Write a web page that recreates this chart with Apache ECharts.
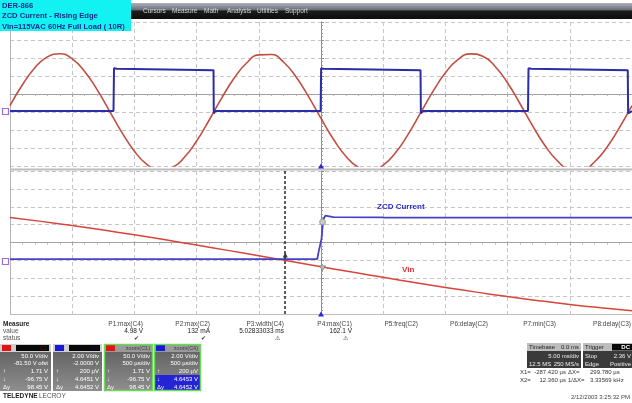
<!DOCTYPE html>
<html>
<head>
<meta charset="utf-8">
<script src="https://cdn.jsdelivr.net/npm/echarts@6/dist/echarts.min.js"></script>
<style>
html,body{margin:0;padding:0;background:#ffffff;}
#chart{width:632px;height:403px;}
</style>
</head>
<body>
<div id="chart"></div>
<script>
// ================= DATA =================
const titleLines = ['DER-866', 'ZCD Current - Rising Edge', 'Vin=115VAC 60Hz Full Load ( 10R)'];
const menuItems = ['Cursors', 'Measure', 'Math', 'Analysis', 'Utilities', 'Support'];

// upper trace window: 5 ms/div, Vin (C1) in volts, ZCD (C4) in volts
const topTimeMs = [-25,-24,-23,-22,-21,-20,-19,-18,-17,-16,-15,-14,-13,-12,-11,-10,-9,-8,-7,-6,-5,-4,-3,-2,-1,0,1,2,3,4,5,6,7,8,9,10,11,12,13,14,15,16,17,18,19,20,21,22,23,24,25];
const topVin = [17.7,75.7,123.1,153.2,161.8,147.7,112.8,62.1,2.7,-57.2,-108.9,-145.4,-161.5,-154.9,-126.5,-80.4,-22.9,37.7,93.1,135.4,158.6,159.6,138.2,97.3,42.9,-17.7,-75.7,-123.1,-153.2,-161.8,-147.7,-112.8,-62.1,-2.7,57.2,108.9,145.4,161.5,154.9,126.5,80.4,22.9,-37.7,-93.1,-135.4,-158.6,-159.6,-138.2,-97.3,-42.9,17.7];
const topZcdTimeMs = [-25,-16.68,-16.64,-16.4,-8.64,-8.62,-8.5,-0.03,0.01,0.2,8.0,8.03,8.2,16.64,16.68,16.9,24.66,24.69,25];
const topZcd = [0.1,0.1,4.85,4.8,4.65,-0.15,0.1,0.1,4.85,4.8,4.65,-0.15,0.1,0.1,4.85,4.8,4.65,-0.15,0.1];

// lower zoom window: 500 us/div
const zoomTimeMs = [-2.5,-2.25,-2.0,-1.75,-1.5,-1.25,-1.0,-0.75,-0.5,-0.25,0,0.25,0.5,0.75,1.0,1.25,1.5,1.75,2.0,2.25,2.5];
const zoomVin = [119.9,109.1,97.3,84.7,71.4,57.4,42.9,28.0,12.8,-2.4,-17.7,-32.8,-47.5,-61.9,-75.7,-88.8,-101.2,-112.7,-123.2,-132.5,-140.7];
const zoomZcdTimeMs = [-2.5,-0.03,-0.02,-0.004,0.004,0.018,0.035,0.1,0.5,2.5];
const zoomZcd = [0.15,0.15,0.9,1.1,2.4,4.6,5.0,4.85,4.8,4.78];
const cursorX1Ms = -0.28742;
const cursorX2Ms = 0.01236;

const traceLabels = ['ZCD Current', 'Vin'];
const measureNames = ['P1:max(C4)', 'P2:max(C2)', 'P3:width(C4)', 'P4:max(C1)', 'P5:freq(C2)', 'P6:delay(C2)', 'P7:min(C3)', 'P8:delay(C3)'];
const measureValues = ['4.98 V', '132 mA', '5.02833033 ms', '162.1 V', '', '', '', ''];
const measureStatus = ['\u2714', '\u2714', '\u26A0', '\u26A0', '', '', '', ''];
const measureRowNames = ['Measure', 'value', 'status'];
const channelHeads = ['C1', 'C4', 'zoom(C1)', 'zoom(C4)'];
const channelRowTags = ['', '', '\u2191', '\u2193', '\u0394y'];
const channelRows = [
  ['50.0 V/div', '-81.50 V ofst', '1.71 V', '-96.75 V', '98.45 V'],
  ['2.00 V/div', '-2.0000 V', '200 \u00B5V', '4.6451 V', '4.6452 V'],
  ['50.0 V/div', '500 \u00B5s/div', '1.71 V', '-96.75 V', '98.45 V'],
  ['2.00 V/div', '500 \u00B5s/div', '200 \u00B5V', '4.6453 V', '4.6452 V']
];
const timebaseRows = [['Timebase', '0.0 ms'], ['', '5.00 ms/div'], ['12.5 MS', '250 MS/s']];
const triggerRows = [['Trigger', 'DC'], ['Stop', '2.36 V'], ['Edge', 'Positive']];
const cursorRows = [['X1=', '-287.420 \u00B5s', '\u0394X=', '299.780 \u00B5s'], ['X2=', '12.360 \u00B5s', '1/\u0394X=', '3.33569 kHz']];
const dateText = '2/12/2003 3:25:32 PM';
const brandText = ['TELEDYNE', 'LECROY'];

// ================= BUILD =================
const F = '"Liberation Sans", Arial, sans-serif';
function zip(a, b) { return a.map((v, i) => [v, b[i]]); }
function txt(x, y, s, size, fill, align, weight) {
  return { type: 'text', x: x, y: y, silent: true, z: 120,
    style: { text: s, fill: fill, font: (weight || 'normal') + ' ' + size + 'px ' + F,
      align: align || 'left', verticalAlign: 'middle' } };
}
function rect(x, y, w, h, fill, stroke, lw, z) {
  return { type: 'rect', silent: true, z: z || 110, shape: { x: x, y: y, width: w, height: h },
    style: { fill: fill || 'none', stroke: stroke || null, lineWidth: lw || 0 } };
}
function hline(x1, y1, x2, y2, color, w, z) {
  return { type: 'line', silent: true, z: z || 105, shape: { x1: x1, y1: y1, x2: x2, y2: y2 }, style: { stroke: color, lineWidth: w } };
}

const G = [];
// frame lines of the two panels
G.push(hline(10.5, 22, 10.5, 315, '#b4b4b4', 1, 1));
G.push(hline(10, 169.5, 632, 169.5, '#bcbcbc', 2, 1));
G.push(hline(10, 314.5, 632, 314.5, '#bcbcbc', 1.2, 1));

// menu bar + title box
G.push(rect(130, 3, 502, 16, new echarts.graphic.LinearGradient(0, 0, 0, 1, [
  { offset: 0, color: '#aeb2bd' }, { offset: 0.42, color: '#6a6f7c' }, { offset: 0.5, color: '#1c1c1e' }, { offset: 1, color: '#0c0c0c' }])));
const menuX = [143, 172, 204, 227, 257, 285];
menuItems.forEach((m, i) => G.push(txt(menuX[i], 11, m, 6.5, '#d6d6d6')));
G.push(rect(0, 0, 131, 31, '#12f2f2'));
titleLines.forEach((t, i) => G.push(txt(2, 5.5 + i * 10.5, t, 7.6, '#1b2c88', 'left', 'bold')));

// channel ground markers at left
G.push(rect(2.5, 108.5, 6, 6, 'none', '#9a70d8', 1.2));
G.push(rect(2.5, 258.5, 6, 6, 'none', '#9a70d8', 1.2));

// trace labels
G.push(txt(377, 207, traceLabels[0], 8, '#2a2ad2', 'left', 'bold'));
G.push(txt(402, 270, traceLabels[1], 8, '#e02828', 'left', 'bold'));

// measure table
G.push(txt(3, 324, measureRowNames[0], 6.5, '#222', 'left', 'bold'));
G.push(txt(3, 331, measureRowNames[1], 6.5, '#555'));
G.push(txt(3, 338, measureRowNames[2], 6.5, '#555'));
const colR = [143, 210, 284, 352, 418, 488, 556, 631];
measureNames.forEach((m, i) => {
  G.push(txt(colR[i], 324, m, 6.5, '#444', 'right'));
  if (measureValues[i]) G.push(txt(colR[i], 331, measureValues[i], 6.5, '#222', 'right'));
  if (measureStatus[i]) G.push(txt(colR[i] - 4, 338.5, measureStatus[i], 6, '#333', 'right'));
});

// channel boxes
const boxX = [0, 53, 104, 154], boxW = [51, 49, 49, 47];
const headCol = ['#e01414', '#1818d8', '#e01414', '#1818d8'];
channelRows.forEach((rows, b) => {
  const x = boxX[b], w = boxW[b];
  G.push(rect(x, 344, w, 47, new echarts.graphic.LinearGradient(0, 0, 0, 1, [
    { offset: 0, color: '#5c5c5c' }, { offset: 1, color: '#8e8e8e' }])));
  G.push(rect(x, 344, w, 8, b < 2 ? '#cfcfcf' : '#9a9a9a'));
  G.push(rect(x + 2, 345, 9, 6, headCol[b]));
  if (b < 2) {
    G.push(rect(x + 16, 345, w - 18, 6, '#080808'));
    G.push(txt(x + w - 4, 348.2, channelHeads[b], 5.5, b === 0 ? '#6a1010' : '#101070', 'right'));
  } else {
    G.push(txt(x + w - 3, 348.2, channelHeads[b], 5.5, '#3c3c3c', 'right'));
  }
  if (b === 3) G.push(rect(x + 1, 375, w - 2, 16, '#2424d4'));
  rows.forEach((r, k) => {
    G.push(txt(x + w - 3, 356 + k * 7.8, r, 6, '#ffffff', 'right'));
    if (channelRowTags[k]) G.push(txt(x + 3, 356 + k * 7.8, channelRowTags[k], 6, '#ffffff'));
  });
  if (b >= 2) G.push(rect(x + 0.5, 344.5, w - 1, 46, 'none', '#6bdc5a', 1.5));
});
G.push(txt(3, 396.5, brandText[0], 6.5, '#222', 'left', 'bold'));
G.push(txt(39, 396.5, brandText[1], 6.5, '#555'));

// timebase / trigger boxes
G.push(rect(527, 343, 54, 25, '#3a3a3a'));
G.push(rect(527, 343, 54, 8, '#bdbdbd'));
G.push(txt(529, 347, timebaseRows[0][0], 6, '#222'));
G.push(txt(579, 347, timebaseRows[0][1], 6, '#222', 'right'));
G.push(txt(579, 356, timebaseRows[1][1], 6, '#eeeeee', 'right'));
G.push(txt(529, 364, timebaseRows[2][0], 6, '#eeeeee'));
G.push(txt(579, 364, timebaseRows[2][1], 6, '#eeeeee', 'right'));
G.push(rect(583, 343, 49, 25, '#3a3a3a'));
G.push(rect(583, 343, 49, 8, '#bdbdbd'));
G.push(txt(585, 347, triggerRows[0][0], 6, '#222'));
G.push(rect(612, 344, 20, 6.5, '#0a0a0a'));
G.push(txt(630, 347.2, triggerRows[0][1], 6, '#ffffff', 'right', 'bold'));
G.push(txt(585, 356, triggerRows[1][0], 6, '#eeeeee'));
G.push(txt(631, 356, triggerRows[1][1], 6, '#eeeeee', 'right'));
G.push(txt(585, 364, triggerRows[2][0], 6, '#eeeeee'));
G.push(txt(631, 364, triggerRows[2][1], 6, '#eeeeee', 'right'));
cursorRows.forEach((r, k) => {
  const y = 372.5 + k * 8;
  G.push(txt(520, y, r[0], 6, '#333'));
  G.push(txt(566, y, r[1], 6, '#333', 'right'));
  G.push(txt(568, y, r[2], 6, '#333'));
  G.push(txt(590, y, r[3], 6, '#333'));
});
G.push(txt(630, 397, dateText, 6, '#444', 'right'));

// ================= AXES =================
const gridLine = { show: true, lineStyle: { color: '#c6c6c6', type: [4, 3], width: 1 } };
function timeAxis(gi, min, max, interval, divIdx) {
  return { gridIndex: gi, type: 'value', min: min, max: max, interval: interval,
    axisLine: { show: true, onZero: true, onZeroAxisIndex: divIdx, lineStyle: { color: '#a2a2a2', width: 1 } },
    axisTick: { show: true, length: 3, lineStyle: { color: '#a2a2a2' } },
    minorTick: { show: true, splitNumber: 5, length: 2, lineStyle: { color: '#b4b4b4' } },
    axisLabel: { show: false }, splitLine: gridLine };
}
function hiddenAxis(gi, min, max) {
  return { gridIndex: gi, type: 'value', min: min, max: max, show: false,
    axisLine: { onZero: false }, splitLine: { show: false } };
}
function divAxis(gi, xIdx) {
  return { gridIndex: gi, type: 'value', min: -4, max: 4, interval: 1,
    axisLine: { show: true, onZero: true, onZeroAxisIndex: xIdx, lineStyle: { color: '#8c8c8c', width: 1 } },
    axisTick: { show: true, length: 3, lineStyle: { color: '#8c8c8c' } },
    minorTick: { show: true, splitNumber: 5, length: 2, lineStyle: { color: '#9c9c9c' } },
    axisLabel: { show: false }, splitLine: gridLine };
}

const option = {
  animation: false,
  backgroundColor: '#ffffff',
  grid: [
    { left: 10, top: 22, width: 622, height: 144, show: false },
    { left: 10, top: 171, width: 622, height: 143, show: false }
  ],
  xAxis: [timeAxis(0, -25, 25, 5, 2), timeAxis(1, -2.5, 2.5, 0.5, 5)],
  yAxis: [hiddenAxis(0, -150, 250), hiddenAxis(0, -6, 10), divAxis(0, 0),
          hiddenAxis(1, -150, 250), hiddenAxis(1, -6, 10), divAxis(1, 1)],
  series: [
    { name: 'Vin', type: 'line', xAxisIndex: 0, yAxisIndex: 0, data: zip(topTimeMs, topVin),
      smooth: true, showSymbol: false, lineStyle: { color: '#c24e40', width: 1.6 }, z: 3 },
    { name: 'ZCD Current', type: 'line', xAxisIndex: 0, yAxisIndex: 1, data: zip(topZcdTimeMs, topZcd),
      showSymbol: false, lineStyle: { color: '#2c2ca6', width: 2 }, z: 4,
      markPoint: { silent: true, symbol: 'triangle', symbolSize: [6, 5], itemStyle: { color: '#2a2ad8' },
        label: { show: false }, data: [{ coord: [0, -6] }] } },
    { name: 'Vin zoom', type: 'line', xAxisIndex: 1, yAxisIndex: 3, data: zip(zoomTimeMs, zoomVin),
      smooth: true, showSymbol: false, lineStyle: { color: '#d8443a', width: 1.5 }, z: 3,
      markPoint: { silent: true, symbol: 'triangle', symbolRotate: 180, symbolSize: [6, 5],
        itemStyle: { color: '#b8b8b8', borderColor: '#777', borderWidth: 0.6 }, label: { show: false },
        data: [{ coord: [cursorX2Ms, -22] }] } },
    { name: 'ZCD zoom', type: 'line', xAxisIndex: 1, yAxisIndex: 4, data: zip(zoomZcdTimeMs, zoomZcd),
      showSymbol: false, lineStyle: { color: '#4343c8', width: 1.8 }, z: 4,
      markLine: { silent: true, symbol: 'none', label: { show: false },
        lineStyle: { color: '#2a2a2a', type: [3, 2], width: 1.5 }, data: [{ xAxis: cursorX1Ms }] },
      markPoint: { silent: true, label: { show: false }, data: [
        { coord: [0, -6], symbol: 'triangle', symbolSize: [6, 5], itemStyle: { color: '#2a2ad8' } },
        { coord: [cursorX2Ms, 4.3], symbol: 'circle', symbolSize: 6, itemStyle: { color: '#c8c8c8', borderColor: '#808080', borderWidth: 0.6 } },
        { coord: [cursorX1Ms, 0.6], symbol: 'triangle', symbolSize: [5, 5], itemStyle: { color: '#333' } }
      ] } }
  ],
  graphic: { elements: G }
};
const chart = echarts.init(document.getElementById('chart'), null, { renderer: 'canvas' });
chart.setOption(option);
</script>
</body>
</html>
